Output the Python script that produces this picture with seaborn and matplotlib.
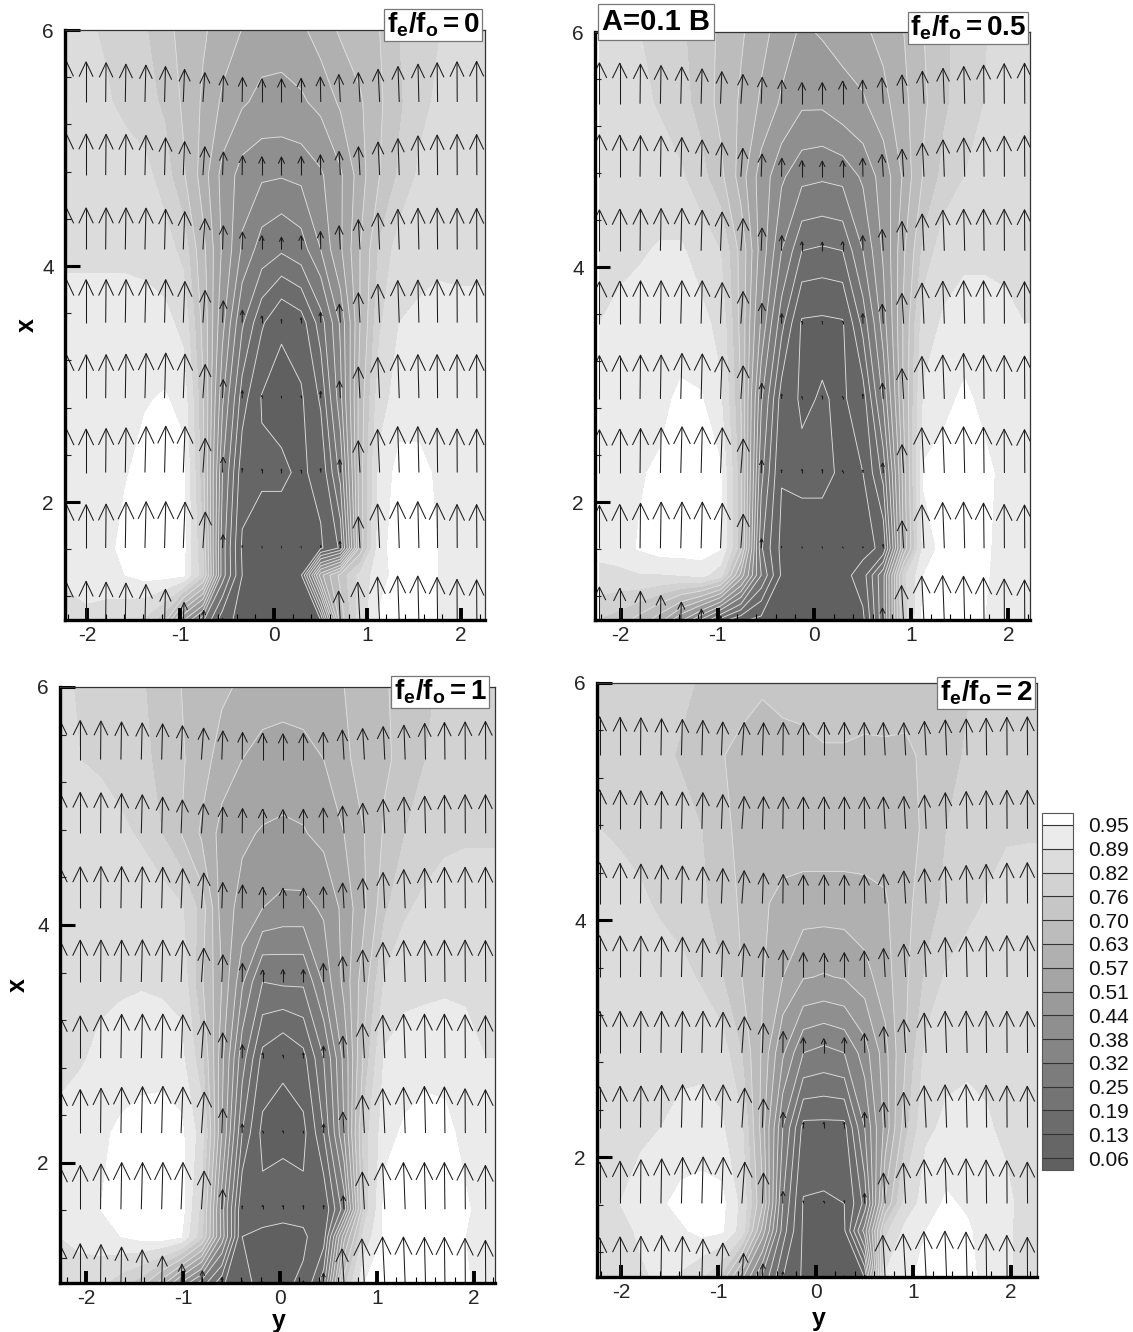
import numpy as np
import matplotlib
matplotlib.use("Agg")
import matplotlib.pyplot as plt
from matplotlib.collections import LineCollection
from matplotlib.ticker import MultipleLocator
import seaborn as sns

# ============================================================
# DATA
# ============================================================
y_stations = [-2.22, -2.01, -1.80, -1.59, -1.38, -1.17, -0.97, -0.76, -0.55, -0.34, -0.13,
              0.08, 0.29, 0.50, 0.71, 0.92, 1.13, 1.34, 1.55, 1.75, 1.96, 2.17]
x_stations = [6.02, 5.39, 4.77, 4.14, 3.52, 2.88, 2.25, 1.61, 1.38, 0.98]
arrow_rows = [True, True, True, True, True, True, True, True, False, True]
levels = [0.06, 0.13, 0.19, 0.25, 0.32, 0.38, 0.44, 0.51, 0.57, 0.63, 0.70, 0.76, 0.82, 0.89, 0.95]
band_greys = ["#606060", "#666666", "#6c6c6c", "#747474", "#7c7c7c", "#858585", "#8f8f8f", "#9a9a9a",
              "#a5a5a5", "#b0b0b0", "#bcbcbc", "#c6c6c6", "#d2d2d2", "#dcdcdc", "#ebebeb", "#ffffff"]
line_levels = [0.06, 0.13, 0.19, 0.25, 0.32, 0.38, 0.44, 0.51, 0.57, 0.63, 0.70]
cross_flow = [0, 0, .005, .008, .013, .013, .02, .034, .018, .007, 0, 0, 0, -.008, -.028, -.028,
              -.024, -.018, -.012, -.006, -.003, -.003]

speed_a = [
    [.85, .83, .81, .79, .765, .72, .68, .64, .60, .57, .55, .54, .56, .60, .64, .67, .70, .76, .78, .815, .84, .85],
    [.86, .85, .83, .80, .78, .75, .69, .62, .56, .52, .49, .49, .50, .53, .58, .62, .69, .75, .80, .83, .85, .86],
    [.87, .87, .865, .86, .84, .79, .71, .60, .49, .41, .39, .385, .395, .43, .50, .60, .70, .77, .83, .85, .86, .86],
    [.88, .88, .88, .88, .875, .85, .80, .65, .50, .37, .29, .26, .29, .38, .50, .63, .77, .85, .87, .875, .87, .87],
    [.91, .91, .91, .91, .91, .91, .87, .68, .46, .26, .14, .068, .10, .22, .39, .63, .81, .89, .90, .91, .91, .91],
    [.92, .92, .92, .93, .945, .955, .93, .71, .39, .16, .055, .04, .05, .14, .36, .66, .86, .92, .92, .92, .92, .92],
    [.92, .92, .93, .945, .97, .98, .97, .72, .32, .09, .07, .07, .05, .08, .27, .67, .91, .97, .97, .94, .92, .92],
    [.92, .92, .93, .97, .98, .98, .97, .76, .28, .05, .03, .03, .03, .05, .14, .66, .93, .98, .98, .95, .92, .92],
    [.91, .92, .93, .95, .97, .97, .96, .78, .28, .06, .03, .03, .05, .55, .72, .84, .93, .97, .98, .95, .92, .91],
    [.84, .87, .85, .83, .80, .70, .42, .25, .08, .04, .03, .03, .03, .04, .66, .85, .96, .98, .98, .95, .91, .90],
]
speed_b = [
    [.85, .84, .82, .795, .77, .73, .69, .64, .59, .545, .50, .52, .54, .56, .59, .63, .70, .75, .78, .815, .84, .85],
    [.87, .86, .84, .81, .78, .74, .68, .62, .56, .50, .45, .45, .48, .50, .55, .61, .69, .75, .79, .82, .85, .86],
    [.89, .88, .87, .86, .83, .78, .72, .60, .48, .39, .34, .33, .34, .39, .47, .58, .71, .78, .82, .84, .86, .87],
    [.87, .88, .885, .895, .90, .86, .82, .68, .48, .32, .19, .18, .19, .32, .45, .62, .78, .86, .88, .88, .88, .87],
    [.89, .90, .91, .91, .91, .91, .87, .68, .43, .21, .05, .045, .052, .21, .41, .64, .86, .90, .91, .91, .90, .89],
    [.92, .92, .93, .93, .965, .955, .90, .70, .33, .10, .05, .065, .05, .10, .33, .64, .90, .93, .965, .93, .92, .91],
    [.92, .93, .945, .96, .98, .98, .96, .72, .27, .065, .075, .075, .05, .06, .21, .60, .96, .98, .98, .97, .93, .92],
    [.91, .93, .955, .98, .98, .98, .955, .72, .20, .04, .03, .03, .03, .03, .08, .58, .92, .97, .98, .96, .93, .92],
    [.87, .87, .885, .885, .89, .91, .85, .55, .25, .05, .03, .03, .03, .10, .30, .80, .95, .98, .98, .96, .92, .90],
    [.75, .72, .66, .57, .43, .28, .13, .06, .03, .03, .03, .03, .03, .04, .30, .78, .98, .99, .98, .95, .92, .90],
]
speed_c = [
    [.83, .815, .80, .785, .765, .74, .70, .665, .645, .62, .60, .60, .60, .61, .63, .665, .695, .72, .75, .77, .79, .79],
    [.83, .82, .81, .79, .77, .75, .71, .66, .60, .57, .55, .54, .55, .57, .62, .65, .69, .72, .76, .78, .79, .80],
    [.86, .86, .85, .835, .81, .76, .70, .62, .55, .52, .505, .50, .505, .53, .57, .63, .71, .76, .78, .80, .81, .81],
    [.87, .87, .875, .875, .87, .86, .83, .74, .54, .49, .44, .42, .42, .45, .53, .62, .75, .81, .84, .86, .86, .86],
    [.88, .88, .88, .88, .885, .88, .87, .71, .57, .39, .25, .26, .26, .39, .53, .67, .83, .87, .875, .88, .88, .87],
    [.88, .885, .90, .92, .925, .925, .91, .78, .53, .28, .11, .065, .11, .25, .46, .72, .90, .92, .925, .925, .91, .89],
    [.90, .915, .94, .96, .975, .98, .965, .86, .51, .19, .04, .05, .04, .19, .44, .79, .93, .96, .98, .97, .93, .91],
    [.90, .92, .95, .98, .98, .98, .98, .80, .41, .07, .08, .08, .08, .08, .28, .78, .97, .98, .98, .98, .96, .92],
    [.89, .91, .93, .95, .97, .98, .955, .78, .42, .06, .05, .04, .05, .10, .55, .85, .96, .98, .98, .98, .95, .92],
    [.84, .85, .83, .78, .72, .59, .42, .28, .14, .07, .05, .05, .07, .23, .74, .95, .99, .99, .98, .98, .96, .92],
]
speed_d = [
    [.80, .79, .785, .78, .77, .755, .74, .715, .705, .71, .715, .725, .725, .725, .73, .735, .74, .745, .755, .77, .78, .785],
    [.81, .80, .79, .77, .755, .735, .702, .69, .685, .69, .69, .695, .695, .69, .69, .685, .715, .745, .765, .78, .80, .81],
    [.82, .81, .80, .79, .775, .76, .72, .68, .675, .67, .67, .67, .67, .67, .67, .68, .71, .76, .785, .80, .81, .81],
    [.86, .845, .83, .81, .79, .77, .735, .69, .64, .61, .60, .60, .60, .605, .62, .685, .73, .775, .80, .825, .85, .86],
    [.87, .865, .86, .85, .84, .81, .765, .70, .635, .57, .515, .505, .515, .55, .60, .69, .77, .83, .85, .86, .87, .87],
    [.875, .875, .875, .875, .875, .875, .855, .76, .62, .45, .32, .30, .32, .41, .55, .70, .84, .875, .88, .88, .875, .875],
    [.86, .87, .875, .89, .905, .91, .90, .83, .60, .32, .11, .11, .11, .32, .53, .74, .88, .90, .905, .895, .88, .87],
    [.87, .89, .92, .94, .97, .98, .97, .87, .64, .25, .055, .05, .06, .21, .64, .85, .92, .96, .94, .915, .90, .87],
    [.85, .87, .90, .92, .94, .97, .96, .86, .55, .22, .05, .04, .05, .35, .80, .91, .95, .98, .96, .92, .90, .86],
    [.85, .87, .88, .90, .88, .82, .74, .52, .30, .13, .05, .04, .05, .06, .90, .93, .98, .99, .97, .93, .90, .86],
]

panel_fields = [speed_a, speed_b, speed_c, speed_d]
panel_labels = [r"$\mathbf{f_e/f_o{=}0}$", r"$\mathbf{f_e/f_o{=}0.5}$", r"$\mathbf{f_e/f_o{=}1}$", r"$\mathbf{f_e/f_o{=}2}$"]
y_offsets = [0, 0, -0.05, 0]

# ============================================================
# LAYOUT (pixels of the 1133x1332 picture)
# ============================================================
W, H = 1133, 1332
boxes = [(65, 30, 485, 620), (595, 32, 1030, 620), (60, 687, 495, 1283), (597, 683, 1037, 1277)]
y_limits = [(-2.235, 2.257), (-2.265, 2.224), (-2.268, 2.216), (-2.246, 2.267)]
x_limits = [(1.0, 6.0), (1.0, 6.0), (0.99, 6.0), (0.99, 6.0)]
label_pos = [(433, 25), (968, 28), (440, 692), (986, 693)]

ARROW_LEN = 0.40
HEAD_LEN = 0.37
HEAD_WID = 0.22

sns.set_theme(style="ticks", rc={"axes.grid": False})
plt.rcParams["font.family"] = ["Liberation Sans", "DejaVu Sans"]
plt.rcParams["axes.unicode_minus"] = False
plt.rcParams["mathtext.fontset"] = "custom"
plt.rcParams["mathtext.bf"] = "Liberation Sans:bold"
plt.rcParams["mathtext.rm"] = "Liberation Sans"
plt.rcParams["mathtext.it"] = "Liberation Sans:italic"

palette = sns.color_palette(band_greys)


def px_axes(fig, box):
    l, t, r, b = box
    return fig.add_axes([l / W, 1 - b / H, (r - l) / W, (b - t) / H])


def arrow_segments(y, x, speed):
    segs = []
    for r, row_x in enumerate(x):
        if not arrow_rows[r]:
            continue
        for c, col_y in enumerate(y):
            length = speed[r][c] * ARROW_LEN
            tip = (col_y + cross_flow[c] * speed[r][c], row_x + length)
            segs.append([(col_y, row_x), tip])
            barb_x = tip[1] - HEAD_LEN * length
            barb_y = HEAD_WID * length
            segs.append([(tip[0] - barb_y, barb_x), tip, (tip[0] + barb_y, barb_x)])
    return segs


fig = plt.figure(figsize=(W / 100, H / 100), dpi=100, facecolor="white")
cs_last = None

for k, field in enumerate(panel_fields):
    ax = px_axes(fig, boxes[k])
    ax.set_axisbelow(False)
    y = np.array(y_stations) + y_offsets[k]
    x = np.array(x_stations)[::-1]
    z = np.array(field)[::-1]
    # edge column repeated so the bands reach the right frame
    y_grid = np.append(y, y[-1] + 0.209)
    z_grid = np.column_stack([z, z[:, -1]])

    cs_last = ax.contourf(y_grid, x, z_grid, levels=levels, colors=palette, extend="both")
    ax.contour(y_grid, x, z_grid, levels=line_levels, colors="#dedede", linewidths=0.65)
    ax.add_collection(LineCollection(arrow_segments(y, x_stations, field),
                                     colors="#1c1c1c", linewidths=0.75, zorder=4))

    ax.set_xlim(*y_limits[k])
    ax.set_ylim(*x_limits[k])
    ax.set_xticks([-2, -1, 0, 1, 2])
    ax.set_yticks([2, 4, 6])
    ax.xaxis.set_minor_locator(MultipleLocator(0.2))
    ax.yaxis.set_minor_locator(MultipleLocator(0.4))
    ax.tick_params(axis="x", which="major", direction="in", length=9, width=2.8, labelsize=15, pad=4, color="black")
    ax.tick_params(axis="y", which="major", direction="in", length=11, width=2.2, labelsize=15, pad=8, color="black")
    ax.tick_params(axis="x", which="minor", direction="in", length=4.5, width=0.8, color="black")
    ax.tick_params(axis="y", which="minor", direction="in", length=4.5, width=0.8, color="#222222")
    for side in ["left", "bottom"]:
        ax.spines[side].set_linewidth(2.4)
        ax.spines[side].set_color("black")
    for side in ["top", "right"]:
        ax.spines[side].set_linewidth(0.9)
        ax.spines[side].set_color("#333333")
    for spine in ax.spines.values():
        spine.set_zorder(6)

    if k in (0, 2):
        ax.set_ylabel("x", fontweight="bold", fontsize=18, color="black")
        ax.yaxis.set_label_coords(-26 / (boxes[k][2] - boxes[k][0]) if k == 0 else -30 / (boxes[k][2] - boxes[k][0]), 0.5)
    if k >= 2:
        ax.set_xlabel("y", fontweight="bold", fontsize=18, color="black")
        ax.xaxis.set_label_coords(0.503, -0.043 if k == 2 else -0.05)

    fig.text(label_pos[k][0] / W, 1 - label_pos[k][1] / H, panel_labels[k], fontsize=20, ha="center", va="center",
             color="black", bbox=dict(boxstyle="square,pad=0.08", fc="white", ec="#777777", lw=0.9))

fig.text(656 / W, 1 - 22 / H, "A=0.1 B", fontsize=21, fontweight="bold", ha="center", va="center", color="black",
         bbox=dict(boxstyle="square,pad=0.15", fc="white", ec="#777777", lw=0.9))

# grey scale key
cax = px_axes(fig, (1042, 813, 1073, 1170))
cb = fig.colorbar(cs_last, cax=cax, ticks=levels, extendrect=True, extendfrac=0.036, drawedges=True, format="%.2f")
cb.dividers.set_color("#333333")
cb.dividers.set_linewidth(0.8)
cb.outline.set_edgecolor("#555555")
cb.outline.set_linewidth(0.8)
cax.tick_params(length=0, labelsize=15, pad=11, labelcolor="#111111")

fig.savefig("out.png", dpi=100, facecolor="white")
